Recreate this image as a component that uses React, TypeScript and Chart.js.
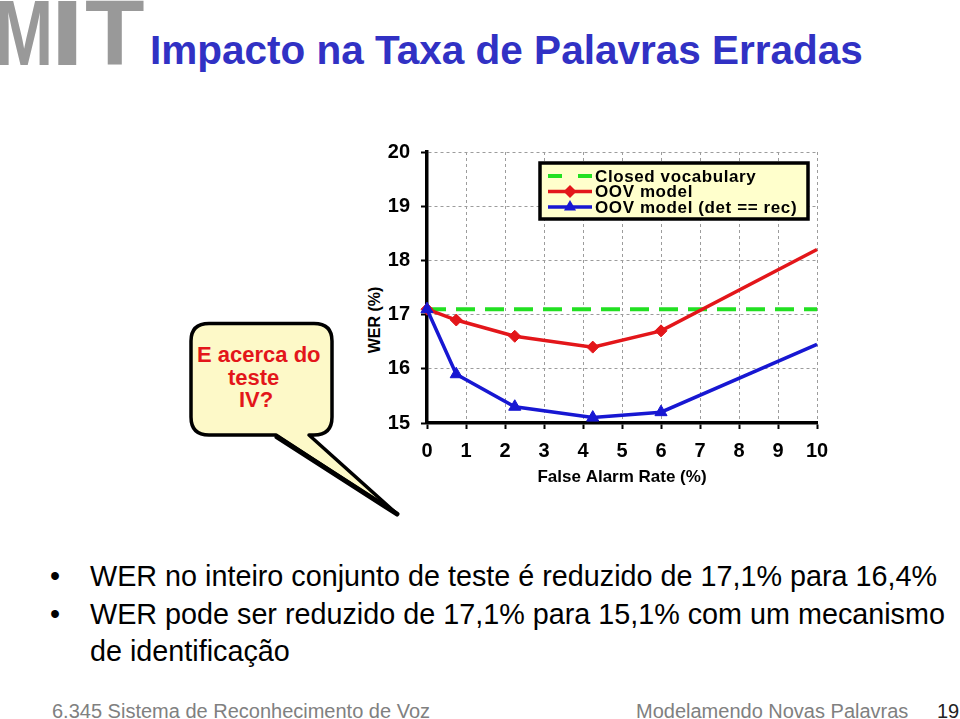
import React, { useEffect, useRef } from "react";
import { Chart, registerables } from "chart.js";

Chart.register(...registerables);

// ---- data ----
const falseAlarmRate = [0, 0.75, 2.25, 4.25, 6.0, 10];
const oovModel = [17.1, 16.9, 16.6, 16.4, 16.7, 18.2];
const oovDetRec = [17.1, 15.9, 15.3, 15.1, 15.2, 16.45];
const closedX = [0, 10];
const closedVocab = [17.1, 17.1];
const xTicks = [0, 1, 2, 3, 4, 5, 6, 7, 8, 9, 10];
const yTicks = [15, 16, 17, 18, 19, 20];
const seriesLabels = ["Closed vocabulary", "OOV model", "OOV model (det == rec)"];
const bullets = [
  "WER no inteiro conjunto de teste é reduzido de 17,1% para 16,4%",
  "WER pode ser reduzido de 17,1% para 15,1% com um mecanismo de identificação",
];

const FONT = '"Liberation Sans", Arial, Helvetica, sans-serif';
const GREEN = "#22e022";
const RED = "#e3161a";
const BLUE = "#1717d2";

const legendBoxPlugin = {
  id: "legendBox",
  afterDraw(chart: any) {
    const { ctx, chartArea } = chart;
    const left = chartArea.left + 113;
    const top = chartArea.top + 11;
    const w = 268;
    const h = 56;
    ctx.save();
    ctx.fillStyle = "#ffffcc";
    ctx.fillRect(left, top, w, h);
    ctx.lineWidth = 3.5;
    ctx.strokeStyle = "#000";
    ctx.strokeRect(left, top, w, h);
    const rows = [top + 13, top + 28.5, top + 44];
    const x0 = left + 8;
    const x1 = left + 52;
    const mx = left + 30;
    // green dashed
    ctx.strokeStyle = GREEN;
    ctx.lineWidth = 4;
    ctx.setLineDash([14, 16]);
    ctx.beginPath();
    ctx.moveTo(x0, rows[0]);
    ctx.lineTo(x1, rows[0]);
    ctx.stroke();
    ctx.setLineDash([]);
    // red with diamond
    ctx.strokeStyle = RED;
    ctx.lineWidth = 3.5;
    ctx.beginPath();
    ctx.moveTo(x0, rows[1]);
    ctx.lineTo(x1, rows[1]);
    ctx.stroke();
    ctx.fillStyle = RED;
    ctx.beginPath();
    ctx.moveTo(mx, rows[1] - 6.5);
    ctx.lineTo(mx + 6.5, rows[1]);
    ctx.lineTo(mx, rows[1] + 6.5);
    ctx.lineTo(mx - 6.5, rows[1]);
    ctx.closePath();
    ctx.fill();
    // blue with triangle
    ctx.strokeStyle = BLUE;
    ctx.beginPath();
    ctx.moveTo(x0, rows[2]);
    ctx.lineTo(x1, rows[2]);
    ctx.stroke();
    ctx.fillStyle = BLUE;
    ctx.beginPath();
    const r = 7;
    for (let k = 0; k < 3; k++) {
      const a = (k * 2 * Math.PI) / 3;
      const px = mx + Math.sin(a) * r;
      const py = rows[2] - Math.cos(a) * r;
      if (k === 0) ctx.moveTo(px, py);
      else ctx.lineTo(px, py);
    }
    ctx.closePath();
    ctx.fill();
    // texts
    ctx.fillStyle = "#000";
    ctx.font = `bold 17px ${FONT}`;
    (ctx as any).letterSpacing = "0.6px";
    ctx.textBaseline = "middle";
    ctx.textAlign = "left";
    seriesLabels.forEach((t, i) => ctx.fillText(t, left + 55, rows[i] + 1));
    ctx.restore();
  },
};

function WerChart() {
  const ref = useRef<HTMLCanvasElement | null>(null);
  useEffect(() => {
    if (!ref.current) return;
    const chart = new Chart(ref.current, {
      type: "line",
      data: {
        datasets: [
          {
            label: seriesLabels[0],
            data: closedX.map((x, i) => ({ x, y: closedVocab[i] })),
            borderColor: GREEN,
            borderWidth: 4,
            borderDash: [19, 10],
            pointRadius: 0,
            order: 3,
            clip: false as any,
          },
          {
            label: seriesLabels[1],
            data: falseAlarmRate.map((x, i) => ({ x, y: oovModel[i] })),
            borderColor: RED,
            backgroundColor: RED,
            borderWidth: 3.5,
            pointStyle: "rectRot",
            pointRadius: falseAlarmRate.map((_, i) => (i === falseAlarmRate.length - 1 ? 0 : 6)),
            pointBorderWidth: 1,
            order: 2,
            clip: false as any,
          },
          {
            label: seriesLabels[2],
            data: falseAlarmRate.map((x, i) => ({ x, y: oovDetRec[i] })),
            borderColor: BLUE,
            backgroundColor: BLUE,
            borderWidth: 3.5,
            pointStyle: "triangle",
            pointRadius: falseAlarmRate.map((_, i) => (i === falseAlarmRate.length - 1 ? 0 : 7)),
            pointBorderWidth: 1,
            order: 1,
            clip: false as any,
          },
        ],
      },
      options: {
        animation: false,
        responsive: false,
        devicePixelRatio: 1,
        layout: { padding: { left: 0, top: 22, right: 23, bottom: 0 } },
        plugins: { legend: { display: false }, tooltip: { enabled: false } },
        scales: {
          x: {
            type: "linear",
            min: 0,
            max: 10,
            afterBuildTicks: (s: any) => {
              s.ticks = xTicks.map((v) => ({ value: v }));
            },
            ticks: {
              color: "#000",
              font: { family: FONT, size: 20, weight: "bold" },
              padding: 10,
              maxRotation: 0,
            },
            grid: { color: "#9c9c9c", lineWidth: 1, tickColor: "#000", tickLength: 6, tickWidth: 2 },
            border: { color: "#000", width: 3.5, dash: [3, 3] },
            title: {
              display: true,
              text: "False Alarm Rate (%)",
              color: "#000",
              font: { family: FONT, size: 17, weight: "bold" },
              padding: { top: 0, bottom: 17 },
            },
            afterFit: (s: any) => {
              s.height = 82;
            },
          },
          y: {
            type: "linear",
            min: 15,
            max: 20,
            afterBuildTicks: (s: any) => {
              s.ticks = yTicks.map((v) => ({ value: v }));
            },
            ticks: {
              color: "#000",
              font: { family: FONT, size: 20, weight: "bold" },
              padding: 11,
            },
            grid: { color: "#9c9c9c", lineWidth: 1, tickColor: "#000", tickLength: 6, tickWidth: 2 },
            border: { color: "#000", width: 3.5, dash: [3, 3] },
            afterFit: (s: any) => {
              s.width = 87;
            },
          },
        },
      },
      plugins: [legendBoxPlugin],
    } as any);
    return () => chart.destroy();
  }, []);
  return <canvas ref={ref} width={500} height={376} style={{ display: "block", width: 500, height: 376 }} />;
}

const abs = (left: number, top: number, extra: React.CSSProperties = {}): React.CSSProperties => ({
  position: "absolute",
  left,
  top,
  whiteSpace: "nowrap",
  fontFamily: FONT,
  ...extra,
});

export default function App() {
  const mitLetter = (ch: string, left: number, sx: number) => (
    <span
      style={abs(left, -13, {
        fontSize: 92,
        lineHeight: "92px",
        fontWeight: "bold",
        color: "#999999",
        transform: `scaleX(${sx})`,
        transformOrigin: "left top",
      })}
    >
      {ch}
    </span>
  );
  return (
    <div
      style={{
        position: "absolute",
        left: 0,
        top: 0,
        width: 960,
        height: 719,
        overflow: "hidden",
        background: "#fff",
        fontFamily: FONT,
      }}
    >
      {mitLetter("M", -5, 0.76)}
      {mitLetter("I", 50, 1.35)}
      {mitLetter("T", 85, 1.06)}
      <div style={abs(150, 30, { fontSize: 40.5, lineHeight: "40px", fontWeight: "bold", color: "#3131c4" })}>
        Impacto na Taxa de Palavras Erradas
      </div>

      {/* callout bubble */}
      <svg width={960} height={719} style={{ position: "absolute", left: 0, top: 0 }}>
        <path
          d="M 209 323.5 H 314 Q 332 323.5 332 341 V 417 Q 332 435 314 435 H 309 L 397 514 L 276 435 H 209 Q 191 435 191 417 V 341 Q 191 323.5 209 323.5 Z"
          fill="#fdf9c8"
          stroke="#000"
          strokeWidth={3.5}
          strokeLinejoin="round"
        />
        <line x1={277} y1={437} x2={397} y2={514} stroke="#000" strokeWidth={5} strokeLinecap="round" />
      </svg>
      {["E acerca do", "teste", "IV?"].map((t, i) => (
        <div
          key={t}
          style={abs([197, 228, 239][i], 344.4 + i * 22.5, {
            fontSize: 22,
            lineHeight: "22px",
            fontWeight: "bold",
            color: "#e3161a",
          })}
        >
          {t}
        </div>
      ))}

      <div style={abs(375, 320, { transform: "translate(-50%, -50%) rotate(-90deg)", fontSize: 16, fontWeight: "bold", lineHeight: "18px", color: "#000" })}>
        WER (%)
      </div>

      <div style={{ position: "absolute", left: 340, top: 129, width: 500, height: 376 }}>
        <WerChart />
      </div>

      {/* bullets */}
      <div style={abs(50, 558.3, { fontSize: 28.75, lineHeight: "37.5px", color: "#000" })}>•</div>
      <div style={abs(90, 558.3, { fontSize: 28.75, lineHeight: "37.5px", color: "#000" })}>{bullets[0]}</div>
      <div style={abs(50, 595.8, { fontSize: 28.75, lineHeight: "37.5px", color: "#000" })}>•</div>
      <div style={abs(90, 595.8, { fontSize: 28.75, lineHeight: "37.5px", color: "#000", whiteSpace: "normal", width: 860 })}>
        {bullets[1]}
      </div>

      {/* footer */}
      <div style={abs(52, 701, { fontSize: 20, lineHeight: "20px", color: "#808080" })}>6.345 Sistema de Reconhecimento de Voz</div>
      <div style={abs(636, 701, { fontSize: 20, lineHeight: "20px", color: "#808080" })}>Modelamendo Novas Palavras</div>
      <div style={abs(937, 701, { fontSize: 20, lineHeight: "20px", color: "#222" })}>19</div>
    </div>
  );
}
